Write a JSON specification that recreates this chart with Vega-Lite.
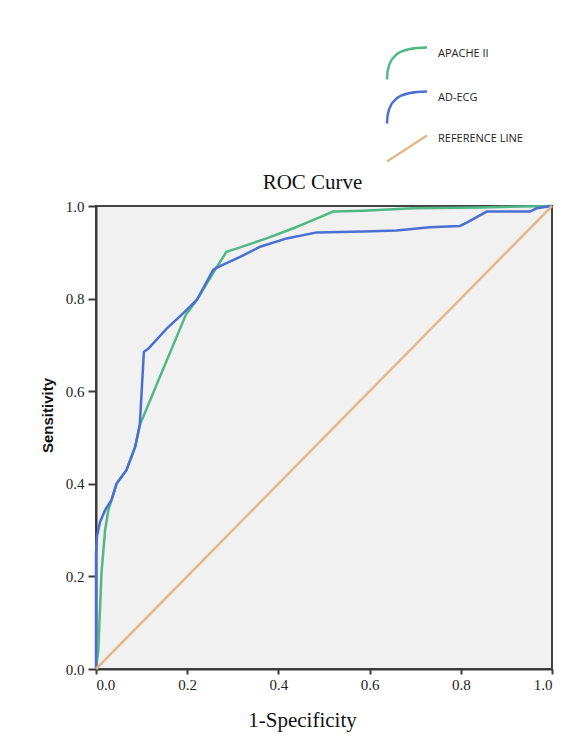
{
  "$schema": "https://vega.github.io/schema/vega-lite/v6.json",
  "autosize": {"type": "none"},
  "padding": {"left": 96, "top": 206, "right": 35, "bottom": 74},
  "width": 456,
  "height": 463,
  "background": "white",
  "config": {
    "view": {"fill": "#f1f1f1", "stroke": "#444", "strokeWidth": 2},
    "axis": {"grid": false, "domainColor": "#3a3a3a", "domainWidth": 2, "tickColor": "#3a3a3a", "tickWidth": 2, "labelFont": "Liberation Serif", "labelFontSize": 15, "labelColor": "#222"}
  },
  "datasets": {
    "roc": [
      {"series": "APACHE II", "o": 0, "fpr": 0.0, "tpr": 0.0},
      {"series": "APACHE II", "o": 1, "fpr": 0.005, "tpr": 0.04},
      {"series": "APACHE II", "o": 2, "fpr": 0.012, "tpr": 0.207},
      {"series": "APACHE II", "o": 3, "fpr": 0.02, "tpr": 0.30},
      {"series": "APACHE II", "o": 4, "fpr": 0.027, "tpr": 0.343},
      {"series": "APACHE II", "o": 5, "fpr": 0.034, "tpr": 0.365},
      {"series": "APACHE II", "o": 6, "fpr": 0.045, "tpr": 0.40},
      {"series": "APACHE II", "o": 7, "fpr": 0.067, "tpr": 0.43},
      {"series": "APACHE II", "o": 8, "fpr": 0.086, "tpr": 0.48},
      {"series": "APACHE II", "o": 9, "fpr": 0.096, "tpr": 0.527},
      {"series": "APACHE II", "o": 10, "fpr": 0.197, "tpr": 0.765},
      {"series": "APACHE II", "o": 11, "fpr": 0.221, "tpr": 0.797},
      {"series": "APACHE II", "o": 12, "fpr": 0.254, "tpr": 0.851},
      {"series": "APACHE II", "o": 13, "fpr": 0.286, "tpr": 0.901},
      {"series": "APACHE II", "o": 14, "fpr": 0.308, "tpr": 0.908},
      {"series": "APACHE II", "o": 15, "fpr": 0.374, "tpr": 0.93},
      {"series": "APACHE II", "o": 16, "fpr": 0.433, "tpr": 0.952},
      {"series": "APACHE II", "o": 17, "fpr": 0.477, "tpr": 0.97},
      {"series": "APACHE II", "o": 18, "fpr": 0.52, "tpr": 0.988},
      {"series": "APACHE II", "o": 19, "fpr": 0.586, "tpr": 0.99},
      {"series": "APACHE II", "o": 20, "fpr": 0.696, "tpr": 0.995},
      {"series": "APACHE II", "o": 21, "fpr": 0.842, "tpr": 0.997},
      {"series": "APACHE II", "o": 22, "fpr": 1.0, "tpr": 1.0},
      {"series": "AD-ECG", "o": 0, "fpr": 0.0, "tpr": 0.0},
      {"series": "AD-ECG", "o": 1, "fpr": 0.0, "tpr": 0.25},
      {"series": "AD-ECG", "o": 2, "fpr": 0.002, "tpr": 0.286},
      {"series": "AD-ECG", "o": 3, "fpr": 0.009, "tpr": 0.318},
      {"series": "AD-ECG", "o": 4, "fpr": 0.02, "tpr": 0.343},
      {"series": "AD-ECG", "o": 5, "fpr": 0.034, "tpr": 0.365},
      {"series": "AD-ECG", "o": 6, "fpr": 0.045, "tpr": 0.40},
      {"series": "AD-ECG", "o": 7, "fpr": 0.067, "tpr": 0.43},
      {"series": "AD-ECG", "o": 8, "fpr": 0.086, "tpr": 0.48},
      {"series": "AD-ECG", "o": 9, "fpr": 0.096, "tpr": 0.527},
      {"series": "AD-ECG", "o": 10, "fpr": 0.105, "tpr": 0.685},
      {"series": "AD-ECG", "o": 11, "fpr": 0.115, "tpr": 0.692},
      {"series": "AD-ECG", "o": 12, "fpr": 0.155, "tpr": 0.735},
      {"series": "AD-ECG", "o": 13, "fpr": 0.191, "tpr": 0.768},
      {"series": "AD-ECG", "o": 14, "fpr": 0.221, "tpr": 0.797},
      {"series": "AD-ECG", "o": 15, "fpr": 0.257, "tpr": 0.862},
      {"series": "AD-ECG", "o": 16, "fpr": 0.265, "tpr": 0.867},
      {"series": "AD-ECG", "o": 17, "fpr": 0.316, "tpr": 0.89},
      {"series": "AD-ECG", "o": 18, "fpr": 0.36, "tpr": 0.912},
      {"series": "AD-ECG", "o": 19, "fpr": 0.418, "tpr": 0.93},
      {"series": "AD-ECG", "o": 20, "fpr": 0.484, "tpr": 0.943},
      {"series": "AD-ECG", "o": 21, "fpr": 0.586, "tpr": 0.945},
      {"series": "AD-ECG", "o": 22, "fpr": 0.659, "tpr": 0.947},
      {"series": "AD-ECG", "o": 23, "fpr": 0.732, "tpr": 0.954},
      {"series": "AD-ECG", "o": 24, "fpr": 0.798, "tpr": 0.957},
      {"series": "AD-ECG", "o": 25, "fpr": 0.813, "tpr": 0.964},
      {"series": "AD-ECG", "o": 26, "fpr": 0.857, "tpr": 0.988},
      {"series": "AD-ECG", "o": 27, "fpr": 0.952, "tpr": 0.988},
      {"series": "AD-ECG", "o": 28, "fpr": 0.966, "tpr": 0.995},
      {"series": "AD-ECG", "o": 29, "fpr": 1.0, "tpr": 1.0},
      {"series": "REFERENCE LINE", "o": 0, "fpr": 0.0, "tpr": 0.0},
      {"series": "REFERENCE LINE", "o": 1, "fpr": 1.0, "tpr": 1.0}
    ]
  },
  "data": {"name": "roc"},
  "resolve": {"axis": {"x": "independent"}},
  "layer": [
    {
      "mark": {"type": "line", "clip": false},
      "encoding": {
        "x": {"field": "fpr", "type": "quantitative", "scale": {"domain": [0, 1], "nice": false},
          "axis": {"values": [0, 0.2, 0.4, 0.6, 0.8, 1.0], "format": ".1f", "tickSize": 5, "labelPadding": 3,
            "title": "1-Specificity", "titleFont": "Liberation Serif", "titleFontSize": 21, "titleFontWeight": "normal", "titleColor": "#111",
            "titleX": 206, "titleY": 57, "titleBaseline": "alphabetic", "titleAlign": "center"}},
        "y": {"field": "tpr", "type": "quantitative", "scale": {"domain": [0, 1], "nice": false},
          "axis": {"values": [0, 0.2, 0.4, 0.6, 0.8, 1.0], "format": ".1f", "tickSize": 8, "labelPadding": 4,
            "title": "Sensitivity", "titleFont": "Liberation Sans", "titleFontSize": 15, "titleFontWeight": "bold", "titleColor": "#111",
            "titleX": -49, "titleY": 209, "titleBaseline": "middle", "titleAlign": "center", "titleAngle": -90}},
        "color": {"field": "series", "type": "nominal",
          "scale": {"domain": ["APACHE II", "AD-ECG", "REFERENCE LINE"], "range": ["#4fb884", "#4a6fd2", "#e4b88c"]},
          "legend": {"title": null, "orient": "none", "legendX": 297, "legendY": -156.5, "padding": 0, "rowPadding": 2,
            "symbolSize": 625, "symbolStrokeWidth": 2.5, "labelFont": "Open Sans", "labelFontSize": 11, "labelColor": "#222", "labelOffset": 17,
            "encode": {
              "labels": {"update": {"dy": {"value": -10}}},
              "symbols": {"update": {
              "shape": {"signal": "datum.value === 'REFERENCE LINE' ? 'M -1.6 1.04 L 1.6 -1.04' : 'M -1.6 1.28 C -1.6 -0.64 -0.64 -1.28 1.6 -1.28'"},
              "fill": {"value": "transparent"}}}}}},
        "strokeWidth": {"field": "series", "type": "nominal",
          "scale": {"domain": ["APACHE II", "AD-ECG", "REFERENCE LINE"], "range": [2.5, 2.5, 1.2]},
          "legend": null},
        "order": {"field": "o", "type": "quantitative"}
      }
    },
    {
      "mark": {"type": "line", "stroke": "transparent", "strokeWidth": 0},
      "encoding": {
        "x": {"field": "fpr", "type": "quantitative",
          "axis": {"orient": "top", "labels": false, "ticks": false, "domain": false, "grid": false,
            "title": "ROC Curve", "titleFont": "Liberation Serif", "titleFontSize": 21, "titleFontWeight": "normal", "titleColor": "#111",
            "titleX": 216, "titleY": -18, "titleBaseline": "alphabetic", "titleAlign": "center"}},
        "y": {"field": "tpr", "type": "quantitative"},
        "detail": {"field": "series", "type": "nominal"},
        "order": {"field": "o", "type": "quantitative"}
      }
    }
  ]
}
